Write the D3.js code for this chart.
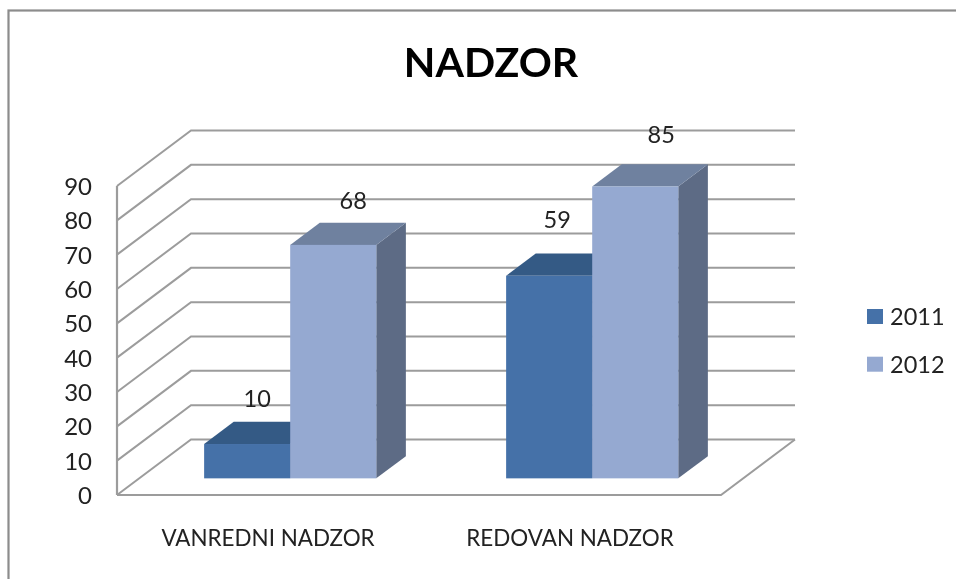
<!DOCTYPE html>
<html><head><meta charset="utf-8">
<script src="https://cdnjs.cloudflare.com/ajax/libs/d3/7.8.5/d3.min.js"></script>
<style>
html,body{margin:0;padding:0;background:#fff;overflow:hidden}
svg{display:block;filter:blur(0.5px)}
text{font-family:Lato,"Open Sans",sans-serif;fill:#222}
</style></head><body><div id="chart"></div>
<script>
const chartTitle = "NADZOR";
const categories = ["VANREDNI NADZOR", "REDOVAN NADZOR"];
const seriesNames = ["2011", "2012"];
const values2011 = [10, 59];
const values2012 = [68, 85];
const yTicks = [0,10,20,30,40,50,60,70,80,90];
const frontColors = ["#4571a8", "#95a9d1"];
const topColors = ["#345a85", "#6f819f"];
const sideColors = ["#345a85", "#5d6b85"];
const labelNudge = {"2011":[[10,-46],[8,-57]], "2012":[[20,-45],[26,-52.5]]};

const W = 956, H = 579;
const svg = d3.select("#chart").append("svg").attr("width", W).attr("height", H);

// outer frame (runs off the right and bottom edges)
svg.append("rect").attr("x",8.5).attr("y",10.5).attr("width",W+20).attr("height",H+20)
  .attr("fill","#fff").attr("stroke","#8c8c8c").attr("stroke-width",2.2);

const y = d3.scaleLinear().domain([0,90]).range([495,186]);
const x = d3.scaleBand().domain(categories).range([117,721]).paddingInner(0.43).paddingOuter(0.215);
const xs = d3.scaleBand().domain(seriesNames).range([0,x.bandwidth()]);
// oblique depth projection: t = 0 at the front plane, t = 1 at the back wall
const depthX = 74, depthY = 55.5;
const px = (xv,t) => xv + depthX*t;
const py = (v,t) => y(v) - depthY*t;
const poly = pts => pts.map(p=>p.join(",")).join(" ");

const grid = "#9c9c9c";
const g = svg.append("g");
const backRight = px(721,1);
yTicks.forEach(v=>{
  g.append("polyline").attr("fill","none").attr("stroke",grid).attr("stroke-width",2)
   .attr("points",poly([[px(117,0),py(v,0)],[px(117,1),py(v,1)],[backRight,py(v,1)]]));
});
g.append("line").attr("x1",117).attr("x2",117).attr("y1",y(90)).attr("y2",y(0)).attr("stroke",grid).attr("stroke-width",2.2);
g.append("polyline").attr("fill","none").attr("stroke",grid).attr("stroke-width",2)
 .attr("points",poly([[117,y(0)],[721,y(0)],[backRight,py(0,1)]]));

// bars
const t0 = 0.3, t1 = 0.7;
const rows = [];
seriesNames.forEach((s,si)=>{
  const vals = si===0 ? values2011 : values2012;
  categories.forEach((c,ci)=>rows.push({s,si,c,ci,v:vals[ci]}));
});
const bars = svg.append("g").selectAll("g").data(rows).join("g");
bars.each(function(d){
  const sel = d3.select(this);
  const l = x(d.c)+xs(d.s), r = l+xs.bandwidth();
  sel.append("polygon").attr("fill",sideColors[d.si])
     .attr("points",poly([[px(r,t0),py(0,t0)],[px(r,t1),py(0,t1)],[px(r,t1),py(d.v,t1)],[px(r,t0),py(d.v,t0)]]));
  sel.append("polygon").attr("fill",topColors[d.si])
     .attr("points",poly([[px(l,t0),py(d.v,t0)],[px(l,t1),py(d.v,t1)],[px(r,t1),py(d.v,t1)],[px(r,t0),py(d.v,t0)]]));
  sel.append("rect").attr("fill",frontColors[d.si])
     .attr("x",px(l,t0)).attr("width",xs.bandwidth())
     .attr("y",py(d.v,t0)).attr("height",y(0)-y(d.v));
});
// data labels
svg.append("g").selectAll("text").data(rows).join("text")
  .attr("text-anchor","middle").attr("dominant-baseline","central").attr("font-size",23.5)
  .attr("x",d=>px(x(d.c)+xs(d.s)+xs.bandwidth()/2,t0)+labelNudge[d.s][d.ci][0])
  .attr("y",d=>py(d.v,t0)+labelNudge[d.s][d.ci][1])
  .text(d=>d.v);

// y axis labels
const yAxis = d3.axisLeft(y).tickValues(yTicks).tickSize(0).tickPadding(25);
const ya = svg.append("g").attr("transform","translate(117,0.7)").call(yAxis);
ya.select(".domain").remove();
ya.selectAll("text").attr("font-size",24).style("font-family","Lato").style("fill","#222");

// category labels
svg.append("g").selectAll("text").data(categories).join("text")
  .attr("text-anchor","middle").attr("font-size",22.4).attr("x",c=>x(c)+x.bandwidth()/2)
  .attr("y",546).text(c=>c);

// title
svg.append("text").attr("x",491).attr("y",77).attr("text-anchor","middle")
  .attr("font-size",41).attr("font-weight",700).style("fill","#000").text(chartTitle);

// legend
const lg = svg.append("g").selectAll("g").data(seriesNames).join("g")
  .attr("transform",(d,i)=>`translate(867,${309+i*47.7})`);
lg.append("rect").attr("width",16).attr("height",15).attr("fill",(d,i)=>frontColors[i]);
lg.append("text").attr("x",23).attr("y",7).attr("dominant-baseline","central").attr("font-size",23.5).text(d=>d);
</script></body></html>
